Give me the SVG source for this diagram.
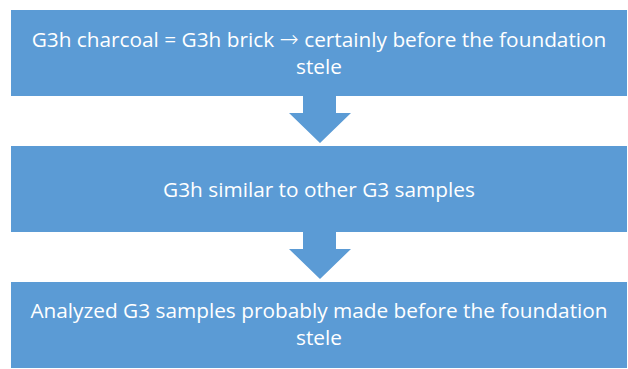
<svg xmlns="http://www.w3.org/2000/svg" width="628" height="369" viewBox="0 0 628 369">
  <style>
    .box { fill: #5b9bd5; }
    .arrow { fill: #5b9bd5; }
    .label { font-family: "Open Sans", "Liberation Sans", sans-serif; font-size: 20.8px; fill: #ffffff; text-anchor: middle; }
    .sym { font-family: "DejaVu Sans", sans-serif; font-size: 23px; font-weight: 300; }
  </style>
  <rect width="628" height="369" fill="#ffffff"/>
  <g id="connectors">
    <polygon class="arrow" points="303,96 336,96 336,113 351,113 320,143 289,113 303,113"/>
    <polygon class="arrow" points="303,232 336,232 336,249 351,249 320,279 289,249 303,249"/>
  </g>
  <g id="step1">
    <rect class="box" x="11" y="10" width="616" height="86"/>
    <text class="label" x="319" y="47">G3h charcoal = G3h brick <tspan class="sym">→</tspan> certainly before the foundation</text>
    <text class="label" x="319" y="74">stele</text>
  </g>
  <g id="step2">
    <rect class="box" x="11" y="146" width="616" height="86"/>
    <text class="label" x="319" y="197">G3h similar to other G3 samples</text>
  </g>
  <g id="step3">
    <rect class="box" x="11" y="282" width="616" height="86"/>
    <text class="label" x="319" y="318">Analyzed G3 samples probably made before the foundation</text>
    <text class="label" x="319" y="345">stele</text>
  </g>
</svg>
